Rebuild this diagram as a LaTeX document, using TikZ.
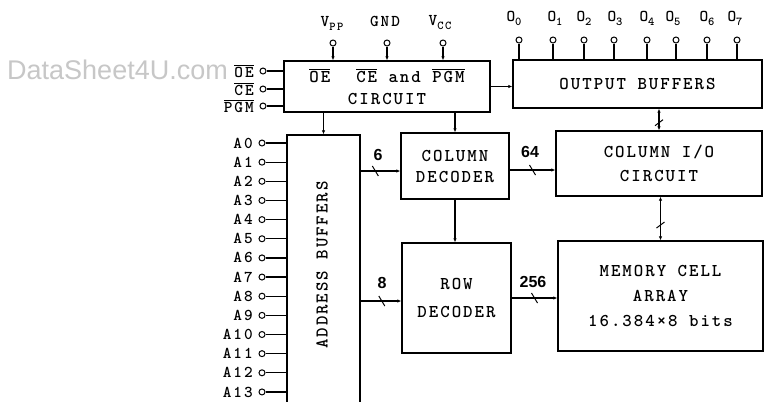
\documentclass[tikz,border=0pt]{standalone}
\usepackage{fontspec}
\newfontfamily\wmfont{Liberation Sans}
\newfontfamily\busfont{Liberation Sans Bold}
\newfontfamily\boxfont[LetterSpace=11]{lmmonolt10-bold.otf}
\newfontfamily\pinfont[LetterSpace=12]{lmmonolt10-bold.otf}
\usetikzlibrary{arrows.meta,calc}
\newcommand\ovl[1]{$\overline{\hbox{#1}}$}
\newcommand\lowsub[1]{\raisebox{-4pt}{\fontsize{12}{12}\selectfont #1}}
\begin{document}
\begin{tikzpicture}[x=1pt,y=-1pt,
  box/.style={draw, line width=1.4pt, inner sep=0pt, align=center,
    font=\boxfont\fontsize{18}{22}\selectfont},
  pinc/.style={circle, draw, line width=1pt, fill=white, minimum size=6pt, inner sep=0pt},
  wire/.style={line width=1.2pt},
  arr/.style={wire, -{Latex[length=4pt,width=3.5pt]}},
  darr/.style={wire, {Latex[length=4pt,width=3.5pt]}-{Latex[length=4pt,width=3.5pt]}},
  tickmark/.style={line width=1pt},
  pinlbl/.style={font=\pinfont\fontsize{16.5}{16.5}\selectfont, anchor=east, inner sep=0pt},
  toplbl/.style={font=\pinfont\fontsize{16.5}{16.5}\selectfont, inner sep=0pt},
  buslbl/.style={font=\busfont\fontsize{16}{16}\selectfont, inner sep=0pt}]
\useasboundingbox (0,0) rectangle (764,402);
\fill[white] (0,0) rectangle (764,402);

% watermark
\node[font=\wmfont\fontsize{27}{27}\selectfont, text=black!22, anchor=base west, inner sep=0pt] (wm) at (7,79) {DataSheet4U.com};

% blocks
\node[box, minimum width=206pt, minimum height=51pt] (ctl) at (387,86.5)
  {\ovl{OE}\hspace{26pt}\ovl{CE} and \ovl{PGM}\\CIRCUIT};
\node[box, minimum width=249pt, minimum height=48pt] (outbuf) at (637.5,84) {OUTPUT BUFFERS};
\node[box, minimum width=73pt, minimum height=285pt] (addrbuf) at (323.5,277.5) {};
\node[font=\boxfont\fontsize{18}{18}\selectfont, rotate=90, inner sep=0pt] (addrtxt) at (322,265) {ADDRESS BUFFERS};
\node[box, minimum width=108pt, minimum height=66pt, font=\boxfont\fontsize{18}{21}\selectfont] (coldec) at (455,166) {COLUMN\\DECODER};
\node[box, minimum width=206pt, minimum height=65pt, font=\boxfont\fontsize{18}{24}\selectfont] (colio) at (659,163.5) {COLUMN I/O\\CIRCUIT};
\node[box, minimum width=109pt, minimum height=110pt, font=\boxfont\fontsize{18}{28}\selectfont] (rowdec) at (456.5,298) {ROW\\DECODER};
\node[box, minimum width=205pt, minimum height=110pt, font=\boxfont\fontsize{18}{25}\selectfont] (mem) at (660.5,296) {MEMORY CELL\\ARRAY\\16.384×8 bits};

% top pins of control circuit
\node[pinc] (pvpp) at (333,43) {};
\node[pinc] (pgnd) at (387,43) {};
\node[pinc] (pvcc) at (443,43) {};
\draw[arr] (pvpp) -- (pvpp |- ctl.north);
\draw[arr] (pgnd) -- (pgnd |- ctl.north);
\draw[arr] (pvcc) -- (pvcc |- ctl.north);
\node[toplbl] (lvpp) at (332,23) {V\lowsub{PP}};
\node[toplbl] (lgnd) at (385,21) {GND};
\node[toplbl] (lvcc) at (440,23) {V\lowsub{CC}};

% left pins of control circuit
\node[pinc] (poe) at (263,71) {};
\node[pinc] (pce) at (263,89) {};
\node[pinc] (ppgm) at (263,106) {};
\draw[wire] (poe) -- (poe -| ctl.west);
\draw[wire] (pce) -- (pce -| ctl.west);
\draw[wire] (ppgm) -- (ppgm -| ctl.west);
\node[pinlbl] (loe) at (254,71) {\ovl{OE}};
\node[pinlbl] (lce) at (254,89) {\ovl{CE}};
\node[pinlbl] (lpgm) at (254,106) {\ovl{PGM}};

% output pins
\foreach \k/\x/\lx in {0/519/514,1/553/555,2/584/584,3/614/615,4/647/647,5/676/673,6/707/707,7/737/735}{
  \node[pinc] (po\k) at (\x,40) {};
  \draw[wire] (po\k) -- (po\k |- outbuf.north);
  \node[toplbl] (lo\k) at (\lx,18) {O\lowsub{\k}};
}

% address pins
\foreach \i in {0,...,13}{
  \node[pinc] (pa\i) at (262,{143+19.15*\i}) {};
  \draw[wire] (pa\i) -- (pa\i -| addrbuf.west);
  \node[pinlbl] (la\i) at (253,{143+19.15*\i}) {A\i};
}

% internal connections
\draw[arr] (addrbuf.north |- ctl.south) -- (addrbuf.north);
\draw[arr] (coldec.north |- ctl.south) -- (coldec.north);
\draw[arr] (ctl.east) -- (ctl.east -| outbuf.west);
\draw[arr] (coldec.south) -- (coldec.south |- rowdec.north);

\coordinate (c6) at ($(coldec.west)+(0,5)$);
\draw[arr] (addrbuf.east |- c6) -- coordinate[pos=0.37] (s6) (c6);
\draw[tickmark] ([shift={(-3,-5)}]s6) -- ([shift={(3,5)}]s6);
\node[buslbl] (l6) at (378,155) {6};

\coordinate (c8) at ($(rowdec.west)+(0,3)$);
\draw[arr] (addrbuf.east |- c8) -- coordinate[pos=0.52] (s8) (c8);
\draw[tickmark] ([shift={(-3,-5)}]s8) -- ([shift={(3,5)}]s8);
\node[buslbl] (l8) at (382,283) {8};

\coordinate (c64) at ($(colio.west)+(0,6.5)$);
\draw[arr] (coldec.east |- c64) -- coordinate[pos=0.5] (s64) (c64);
\draw[tickmark] ([shift={(-3,-5)}]s64) -- ([shift={(3,5)}]s64);
\node[buslbl] (l64) at (530,152) {64};

\draw[arr] (rowdec.east) -- coordinate[pos=0.5] (s256) (rowdec.east -| mem.west);
\draw[tickmark] ([shift={(-3,-5)}]s256) -- ([shift={(3,5)}]s256);
\node[buslbl] (l256) at (533,282) {256};

\draw[darr] (colio.north |- outbuf.south) -- coordinate[pos=0.65] (sob) (colio.north);
\draw[tickmark] ([shift={(-4,3)}]sob) -- ([shift={(4,-3)}]sob);
\draw[darr] (mem.north |- colio.south) -- coordinate[pos=0.65] (smem) (mem.north);
\draw[tickmark] ([shift={(-4,3)}]smem) -- ([shift={(4,-3)}]smem);
\end{tikzpicture}
\end{document}
